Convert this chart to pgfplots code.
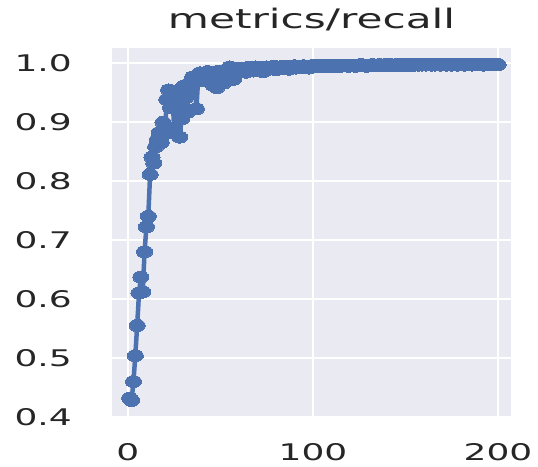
\documentclass[border=0pt]{standalone}
\usepackage{pgfplots}
\usepackage{pgfplotstable}
\pgfplotsset{compat=1.18}
\usepackage{fontspec}
\setmainfont{DejaVu Sans}[FakeStretch=1.57]
\definecolor{bgcol}{HTML}{EAEAF2}
\definecolor{sblue}{HTML}{4C72B0}
\definecolor{txt}{HTML}{262626}
\pgfplotstableread{
x y
1 0.432
2 0.428
3 0.460
4 0.504
5 0.555
6 0.610
7 0.637
8 0.612
9 0.680
10 0.722
11 0.740
12 0.811
13 0.840
14 0.830
15 0.858
16 0.870
17 0.882
18 0.865
19 0.899
20 0.880
21 0.938
22 0.954
23 0.924
24 0.950
25 0.887
26 0.930
27 0.945
28 0.874
29 0.905
30 0.960
31 0.940
32 0.916
33 0.965
34 0.950
35 0.976
36 0.971
37 0.922
38 0.975
39 0.983
40 0.970
41 0.980
42 0.978
43 0.985
44 0.972
45 0.980
46 0.962
47 0.982
48 0.958
49 0.986
50 0.980
51 0.984
52 0.966
53 0.988
54 0.985
55 0.993
56 0.980
57 0.972
58 0.982
59 0.990
60 0.988
61 0.991
62 0.987
63 0.990
64 0.984
65 0.992
66 0.989
67 0.991
68 0.986
69 0.993
70 0.990
71 0.988
72 0.992
73 0.985
74 0.991
75 0.993
76 0.989
77 0.992
78 0.990
79 0.994
80 0.988
81 0.992
82 0.993
83 0.990
84 0.994
85 0.991
86 0.993
87 0.989
88 0.994
89 0.992
90 0.995
91 0.991
92 0.993
93 0.994
94 0.992
95 0.995
96 0.993
97 0.994
98 0.991
99 0.995
100 0.994
101 0.995
102 0.993
103 0.996
104 0.994
105 0.995
106 0.993
107 0.996
108 0.995
109 0.994
110 0.996
111 0.995
112 0.993
113 0.996
114 0.995
115 0.994
116 0.996
117 0.995
118 0.996
119 0.994
120 0.996
121 0.995
122 0.996
123 0.994
124 0.996
125 0.995
126 0.997
127 0.995
128 0.996
129 0.994
130 0.996
131 0.995
132 0.997
133 0.996
134 0.995
135 0.996
136 0.997
137 0.995
138 0.996
139 0.997
140 0.996
141 0.995
142 0.997
143 0.996
144 0.995
145 0.997
146 0.996
147 0.997
148 0.995
149 0.996
150 0.997
151 0.996
152 0.997
153 0.995
154 0.997
155 0.996
156 0.997
157 0.996
158 0.997
159 0.996
160 0.997
161 0.996
162 0.997
163 0.997
164 0.996
165 0.997
166 0.996
167 0.997
168 0.997
169 0.996
170 0.997
171 0.997
172 0.996
173 0.997
174 0.997
175 0.996
176 0.997
177 0.997
178 0.996
179 0.997
180 0.997
181 0.997
182 0.996
183 0.997
184 0.997
185 0.997
186 0.996
187 0.997
188 0.997
189 0.997
190 0.997
191 0.997
192 0.996
193 0.997
194 0.997
195 0.997
196 0.997
197 0.997
198 0.997
199 0.997
200 0.997
}\recall
\begin{document}
\begin{tikzpicture}
\useasboundingbox (-112bp,-50bp) rectangle (426bp,417bp);
\begin{axis}[
  at={(0,0)}, anchor=south west,
  scale only axis,
  width=399bp, height=369bp,
  xmin=-8.6, xmax=207,
  ymin=0.4, ymax=1.025,
  xtick={0,100,200},
  ytick={0.4,0.5,0.6,0.7,0.8,0.9,1.0},
  /pgf/number format/assume math mode=true,
  axis background/.style={fill=bgcol},
  axis line style={draw=none},
  major tick length=0pt,
  grid=major,
  major grid style={white, line width=1.6bp},
  tick label style={font=\fontsize{23}{27}\selectfont, text=txt, inner sep=0pt},
  yticklabel style={anchor=east, xshift=-40bp,
    /pgf/number format/fixed, /pgf/number format/fixed zerofill,
    /pgf/number format/precision=1},
  xticklabel style={anchor=north, yshift=-26bp},
  title={metrics/recall},
  title style={at={(0.5,1)}, anchor=base, yshift=14bp, inner sep=0pt,
    font=\fontsize{27}{31}\selectfont, text=txt},
]
\addplot[sblue, line width=4.5bp, line join=round, line cap=round,
  mark=*, mark size=6bp,
  mark options={xscale=1.35, fill=sblue, draw=sblue, line width=0pt}]
  table[x=x, y=y] {\recall};
\end{axis}
\end{tikzpicture}
\end{document}
